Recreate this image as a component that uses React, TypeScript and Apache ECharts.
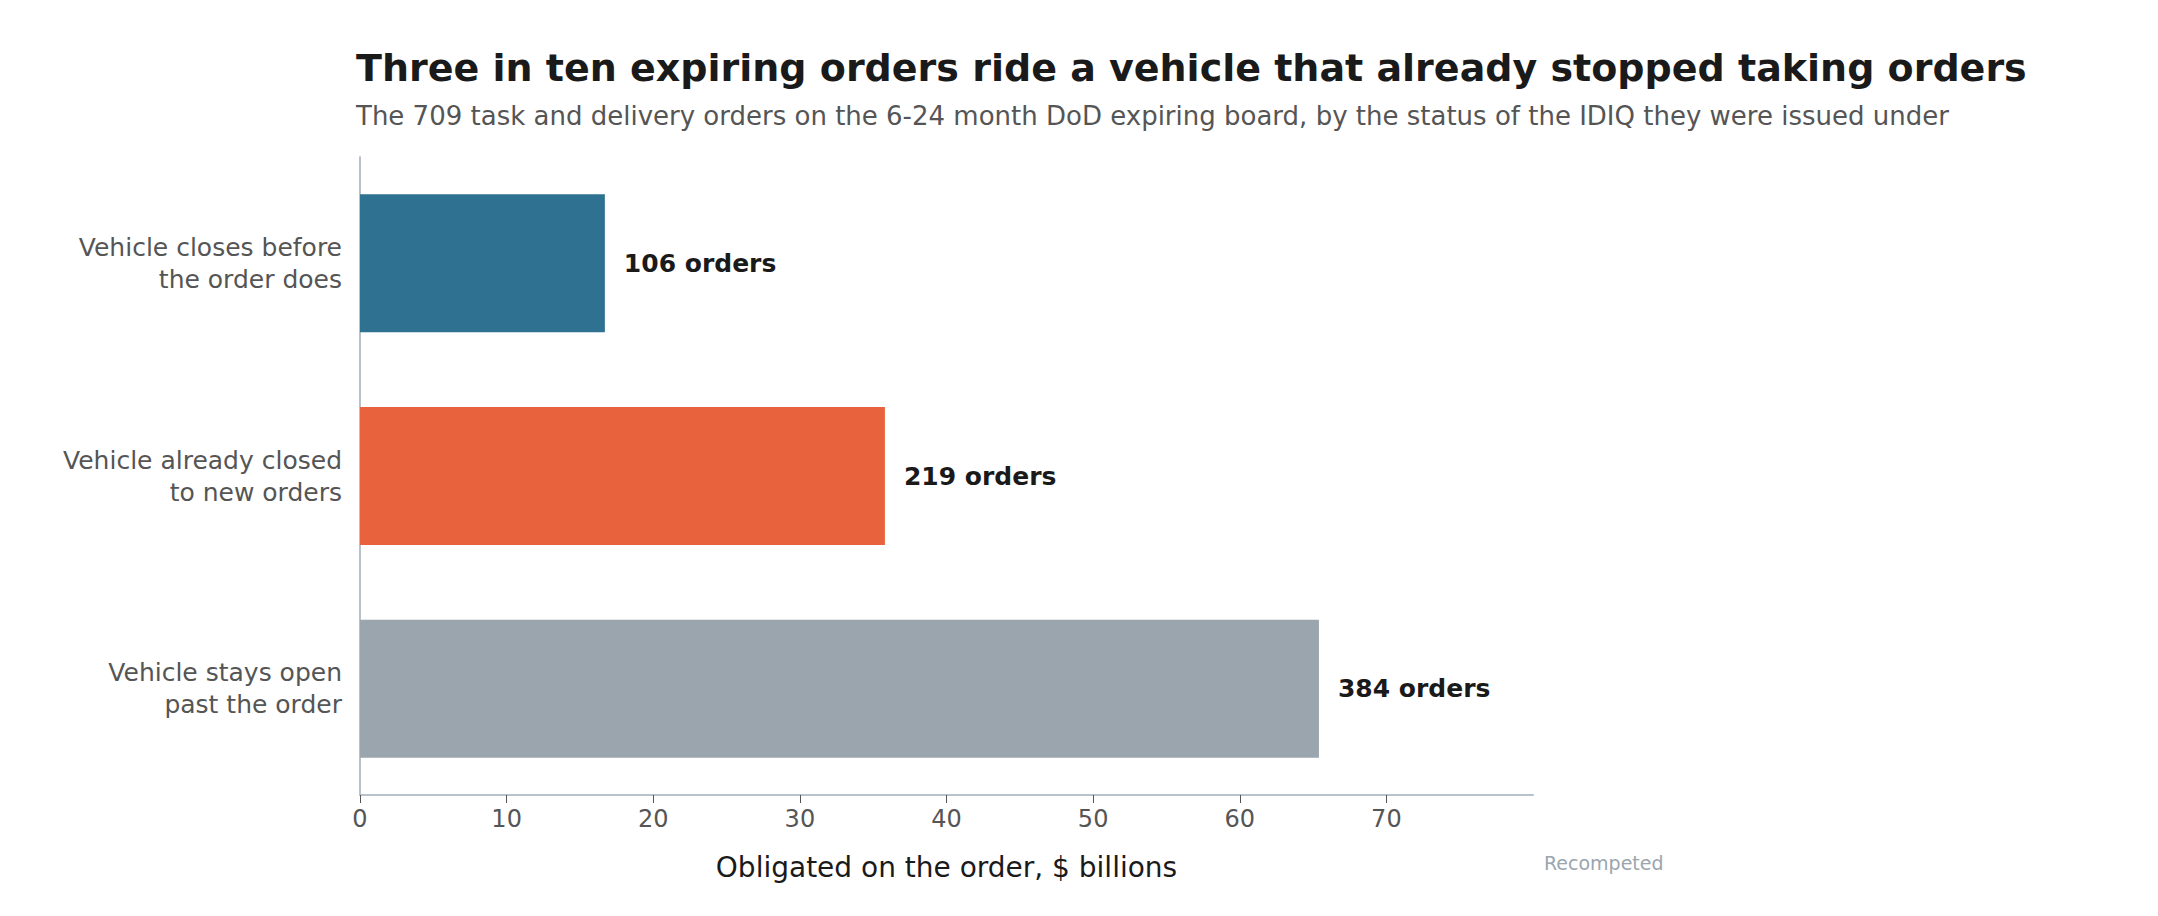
import React, { useEffect, useRef } from "react";
import * as echarts from "echarts";

const categories = ["Vehicle stays open\npast the order", "Vehicle already closed\nto new orders", "Vehicle closes before\nthe order does"];
const values = [65.4, 35.8, 16.7];
const orderCounts = [384, 219, 106];
const colors = ["#9aa5ae", "#e8623d", "#2e7191"];
const ticks = [0, 10, 20, 30, 40, 50, 60, 70];

export default function App() {
  const ref = useRef<HTMLDivElement>(null);
  useEffect(() => {
    const chart = echarts.init(ref.current!, null, { renderer: "svg" });
    const font = "DejaVu Sans";
    chart.setOption({
      animation: false,
      textStyle: { fontFamily: font },
      title: {
        text: "Three in ten expiring orders ride a vehicle that already stopped taking orders",
        subtext: "The 709 task and delivery orders on the 6-24 month DoD expiring board, by the status of the IDIQ they were issued under",
        left: 343, top: 36, itemGap: 16,
        textStyle: { fontFamily: font, fontSize: 38, fontWeight: "bold", color: "#1a1a1a" },
        subtextStyle: { fontFamily: font, fontSize: 26, color: "#555555" },
      },
      grid: { left: 352, top: 149, width: 1173, height: 638 },
      xAxis: {
        type: "value", min: 0, max: 80, interval: 10,
        name: "Obligated on the order, $ billions", nameLocation: "middle", nameGap: 58,
        nameTextStyle: { fontSize: 28, color: "#1a1a1a", fontFamily: font },
        axisLine: { show: true, lineStyle: { color: "#b8c2cc", width: 2 } },
        axisTick: { show: true, length: 8, lineStyle: { color: "#555" }, customValues: ticks },
        axisLabel: { fontSize: 24, color: "#555", margin: 12, customValues: ticks, fontFamily: font },
        splitLine: { show: false },
      },
      yAxis: {
        type: "category", data: categories,
        axisLine: { show: true, lineStyle: { color: "#b8c2cc", width: 2 } },
        axisTick: { show: false },
        axisLabel: { fontSize: 25, color: "#555", margin: 18, align: "right", lineHeight: 32, fontFamily: font },
      },
      series: [{
        type: "bar", barWidth: 138,
        data: values.map((v, i) => ({ value: v, itemStyle: { color: colors[i] } })),
        label: {
          show: true, position: "right", distance: 19,
          formatter: (p: any) => `${orderCounts[p.dataIndex]} orders`,
          fontSize: 25, fontWeight: "bold", color: "#1a1a1a", fontFamily: font,
        },
      }],
      graphic: [{
        type: "text", left: 1536, top: 845,
        style: { text: "Recompeted", fontSize: 19, fill: "#9aa5ae", fontFamily: font },
      }],
    });
    return () => chart.dispose();
  }, []);
  return <div ref={ref} style={{ width: 2142, height: 900 }} />;
}
